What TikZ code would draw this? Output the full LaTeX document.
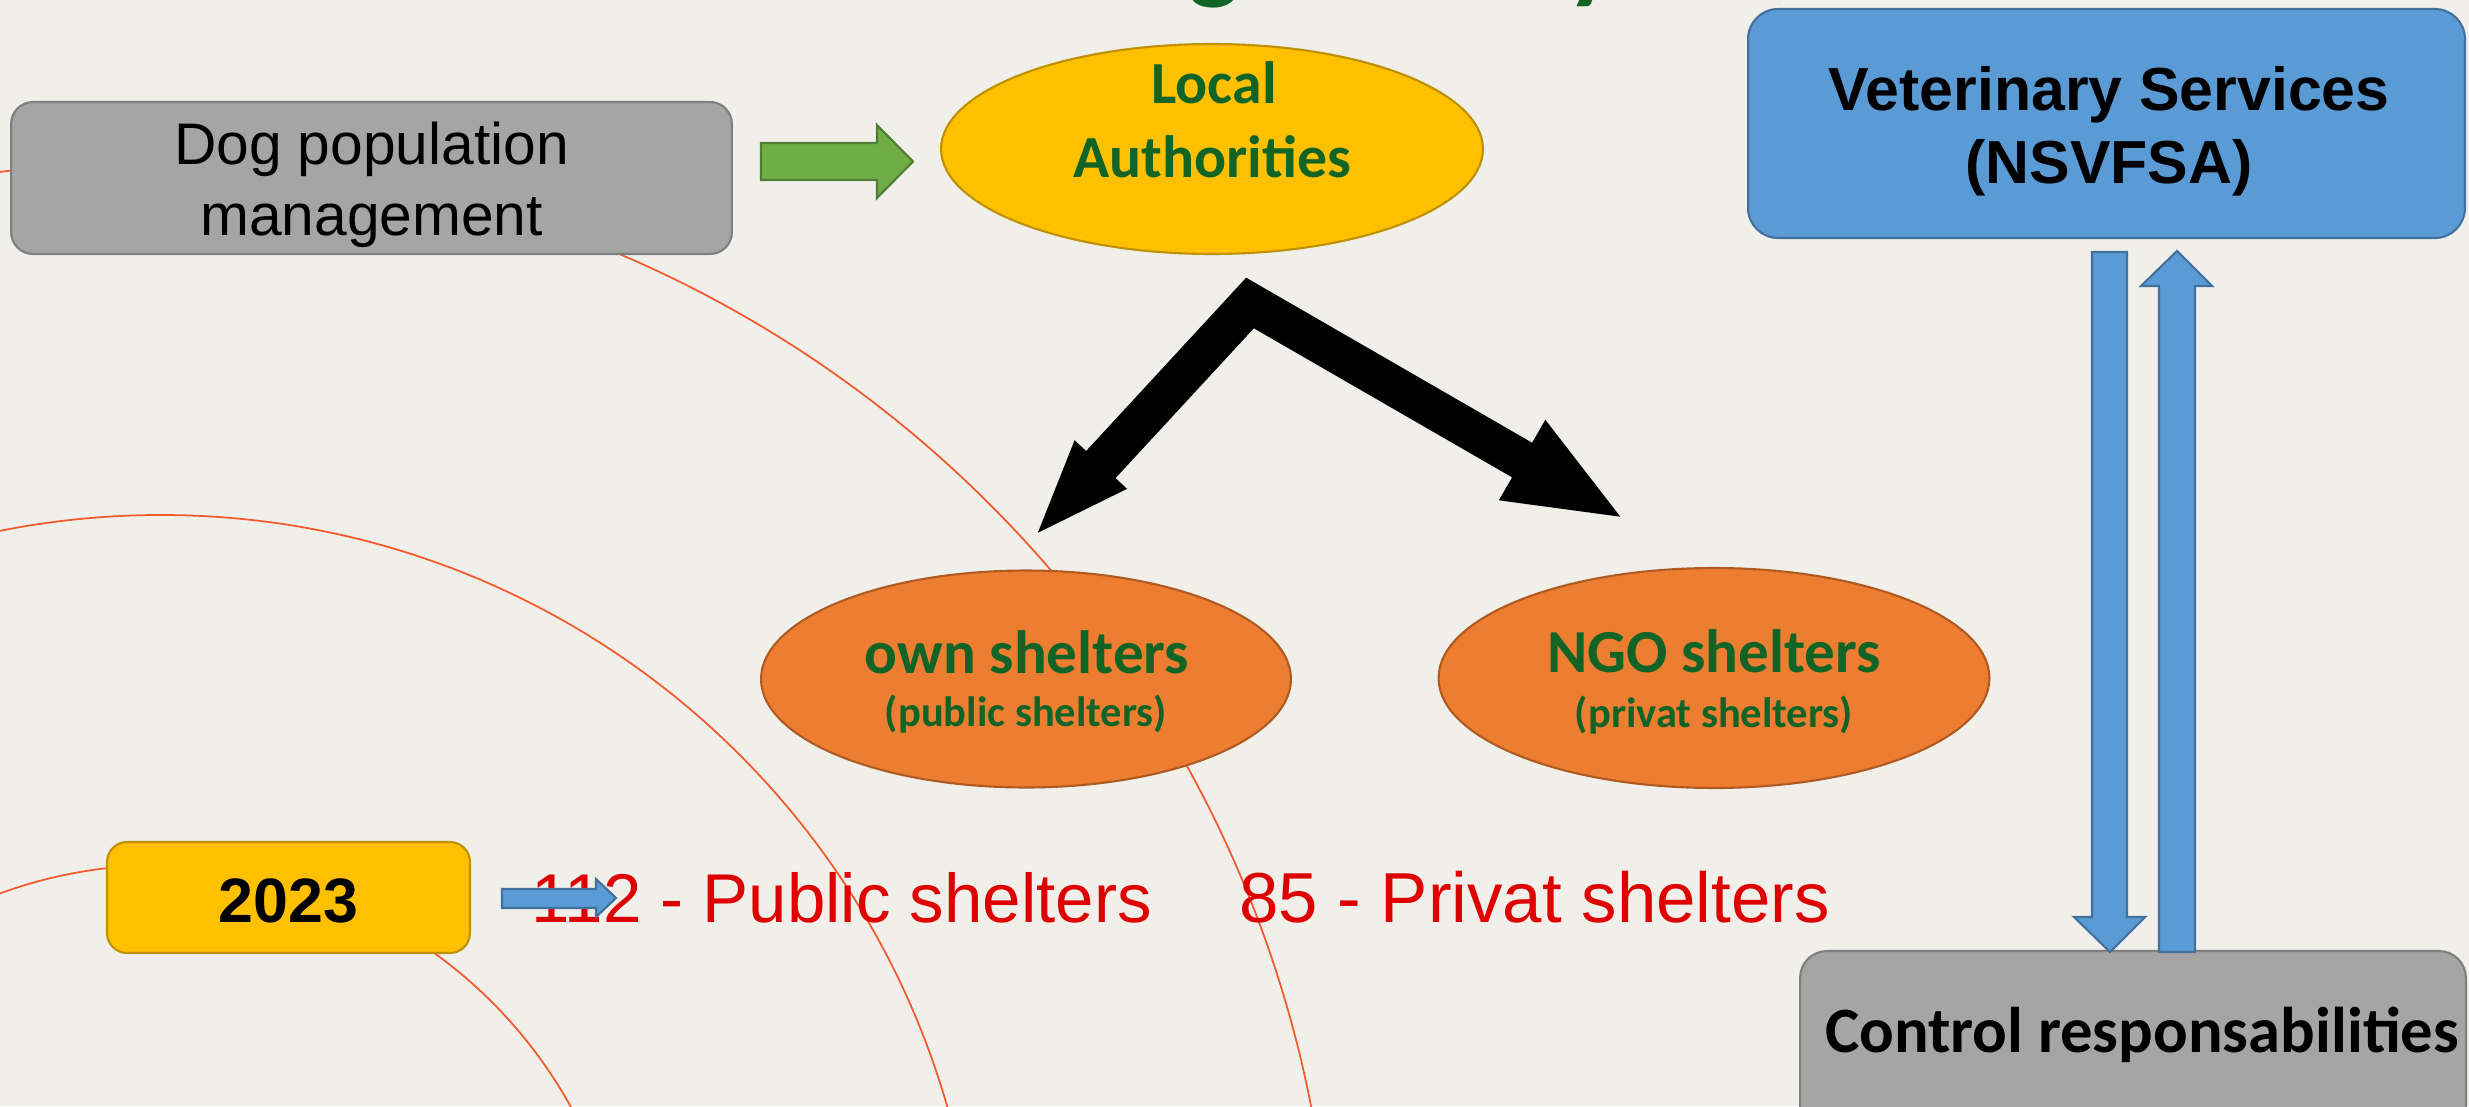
\documentclass[tikz,border=0pt]{standalone}
\usepackage{fontspec}
\setmainfont{Liberation Sans}
\newfontfamily\calibri{Carlito}
\usetikzlibrary{shapes.geometric,arrows.meta}
\definecolor{bg}{RGB}{240,239,234}
\definecolor{ring}{RGB}{245,90,45}
\definecolor{greyfill}{RGB}{165,165,165}
\definecolor{greyline}{RGB}{127,127,127}
\definecolor{bluefill}{RGB}{91,155,213}
\definecolor{blueline}{RGB}{65,113,156}
\definecolor{goldfill}{RGB}{255,192,0}
\definecolor{goldline}{RGB}{191,144,0}
\definecolor{orfill}{RGB}{237,125,49}
\definecolor{orline}{RGB}{174,90,33}
\definecolor{grfill}{RGB}{112,173,71}
\definecolor{grline}{RGB}{80,126,50}
\definecolor{dkgreen}{RGB}{17,100,38}
\definecolor{redtxt}{RGB}{222,0,0}
\tikzset{
  shapebase/.style={line width=1.2pt, inner sep=0pt, outer sep=0pt},
  greybox/.style={shapebase, rectangle, fill=greyfill, draw=greyline},
  bluebox/.style={shapebase, rectangle, fill=bluefill, draw=blueline},
  goldbox/.style={shapebase, rectangle, fill=goldfill, draw=goldline},
  goldell/.style={shapebase, ellipse, fill=goldfill, draw=goldline},
  orell/.style={shapebase, ellipse, fill=orfill, draw=orline},
  blockarrow/.style={line width=1.2pt, line join=miter},
  ringline/.style={draw=ring, line width=1pt},
  txt/.style={anchor=base, inner sep=0pt},
  arialreg/.style={txt, font=\fontsize{33.4}{40}\selectfont},
  arialbold/.style={txt, font=\bfseries\fontsize{34.6}{41}\selectfont},
  calbold/.style={txt, font=\calibri\bfseries\fontsize{34}{41}\selectfont, text=dkgreen},
  calhead/.style={txt, font=\calibri\bfseries\fontsize{34.8}{41}\selectfont, text=dkgreen},
  calsub/.style={txt, font=\calibri\bfseries\fontsize{24.2}{29}\selectfont, text=dkgreen},
  redlabel/.style={anchor=base west, inner sep=0pt, text=redtxt, font=\fontsize{40.3}{48}\selectfont},
  titlefrag/.style={txt, font=\calibri\bfseries\fontsize{62.4}{70}\selectfont, text=dkgreen},
}
\begin{document}
\begin{tikzpicture}[x=0.02cm,y=-0.02cm]
\useasboundingbox (0,0) rectangle (2469,1106);
\clip (0,0) rectangle (2469,1106);
\fill[bg] (0,0) rectangle (2469,1106);

% concentric rings
\coordinate (ringc) at (161,1333);
\draw[ringline] (ringc) circle[radius=468];
\draw[ringline] (ringc) circle[radius=818];
\draw[ringline] (ringc) circle[radius=1172];

% title fragments (cut off by the top edge)
\node[titlefrag] (titleg) at (1214,-11) {g};
\node[titlefrag] (titley) at (1592,-11) {y};

% shapes
\node[greybox, minimum width=14.42cm, minimum height=3.04cm, rounded corners=0.44cm] (dog) at (371.5,178) {};
\node[goldell, minimum width=10.84cm, minimum height=4.2cm] (local) at (1212,149) {};
\node[bluebox, minimum width=14.34cm, minimum height=4.58cm, rounded corners=0.6cm] (vet) at (2106.5,123.5) {};
\node[orell, minimum width=10.6cm, minimum height=4.34cm] (own) at (1026,679) {};
\node[orell, minimum width=11.02cm, minimum height=4.4cm] (ngo) at (1714,678) {};
\node[goldbox, minimum width=7.26cm, minimum height=2.22cm, rounded corners=0.4cm] (year) at (288.5,897.5) {};
\node[greybox, minimum width=13.32cm, minimum height=4cm, rounded corners=0.54cm] (control) at (2133,1051) {};

% texts
\node[arialreg] (dogA) at (371.5,164) {Dog population};
\node[arialreg] (dogB) at (371.5,235) {management};
\node[calbold] (localA) at (1214,103) {Local};
\node[calbold] (localB) at (1212,177) {Authorities};
\node[arialbold] (vetA) at (2109,110) {Veterinary Services};
\node[arialbold] (vetB) at (2109,183) {(NSVFSA)};
\node[calhead] (ownA) at (1027,673) {own shelters};
\node[calsub] (ownB) at (1026,726) {(public shelters)};
\node[calhead] (ngoA) at (1714,672) {NGO shelters};
\node[calsub] (ngoB) at (1714,727) {(privat shelters)};
\node[txt, font=\bfseries\fontsize{35.7}{42}\selectfont] (yearlbl) at (288.5,922) {2023};
\node[txt, font=\calibri\bfseries\fontsize{36.8}{44}\selectfont] (controllbl) at (2142,1052) {Control responsabilities};
\node[redlabel, font=\fontsize{39.3}{47}\selectfont] (pub) at (531,922) {112 - Public shelters};
\node[redlabel] (priv) at (1239,922) {85 - Privat shelters};

% black split arrow
\coordinate (bend) at (1250,303);
\coordinate (ltip) at (1033,538);
\coordinate (rtip) at (1626,520);
\draw[line width=0.8cm, line join=miter,
  {Triangle[length=2cm,width=1.25cm]}-{Triangle[length=2.4cm,width=1.65cm]}]
  (ltip) -- (bend) -- (rtip);

% block arrows
\draw[blockarrow, fill=grfill, draw=grline]
  (761,143) -- (877,143) -- (877,125) -- (913,161.5) -- (877,198) -- (877,180) -- (761,180) -- cycle;
\draw[blockarrow, fill=bluefill, draw=blueline]
  (2092,252) -- (2127,252) -- (2127,917) -- (2145,917) -- (2110,952) -- (2074,917) -- (2092,917) -- cycle;
\draw[blockarrow, fill=bluefill, draw=blueline]
  (2159,952) -- (2159,286) -- (2141,286) -- (2177,251) -- (2212,286) -- (2195,286) -- (2195,952) -- cycle;
\draw[blockarrow, fill=bluefill, draw=blueline]
  (502,889) -- (596,889) -- (596,879) -- (616,898) -- (596,917) -- (596,908) -- (502,908) -- cycle;
\end{tikzpicture}
\end{document}
